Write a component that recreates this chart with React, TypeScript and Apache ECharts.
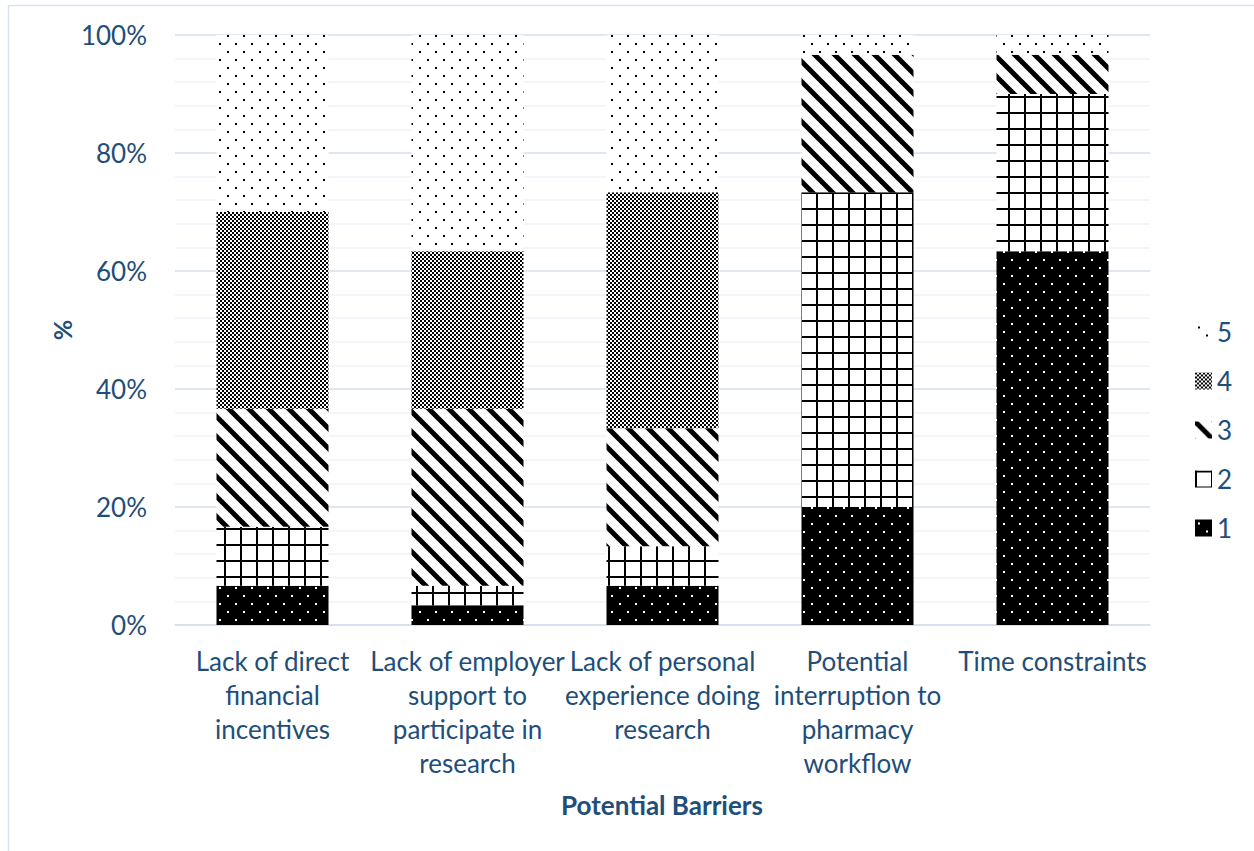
import React, { useEffect, useRef } from "react";
import * as echarts from "echarts";

const categories = [
  "Lack of direct\nfinancial\nincentives",
  "Lack of employer\nsupport to\nparticipate in\nresearch",
  "Lack of personal\nexperience doing\nresearch",
  "Potential\ninterruption to\npharmacy\nworkflow",
  "Time constraints",
];
const seriesNames = ["1", "2", "3", "4", "5"];
const s1 = [6.67, 3.33, 6.67, 20, 63.33];
const s2 = [10, 3.33, 6.67, 53.33, 26.67];
const s3 = [20, 30, 20, 23.33, 6.67];
const s4 = [33.33, 26.67, 40, 0, 0];
const s5 = [30, 36.67, 26.67, 3.33, 3.33];
const seriesValues = [s1, s2, s3, s4, s5];
const legendOrder = ["5", "4", "3", "2", "1"];

const TEXT = "#1F4E79";
const FONT = "Lato";

function tile(w: number, h: number, draw: (ctx: CanvasRenderingContext2D) => void) {
  const c = document.createElement("canvas");
  c.width = w;
  c.height = h;
  const ctx = c.getContext("2d") as CanvasRenderingContext2D;
  draw(ctx);
  return { image: c.toDataURL(), repeat: "repeat", imageWidth: w, imageHeight: h } as any;
}

function makePatterns() {
  const p1 = tile(16, 16, (ctx) => {
    ctx.fillStyle = "#000";
    ctx.fillRect(0, 0, 16, 16);
    ctx.fillStyle = "#fff";
    ctx.fillRect(3, 3, 2, 2);
    ctx.fillRect(11, 11, 2, 2);
  });
  const p2 = tile(16, 16, (ctx) => {
    ctx.fillStyle = "#fff";
    ctx.fillRect(0, 0, 16, 16);
    ctx.fillStyle = "#000";
    ctx.fillRect(0, 0, 2, 16);
    ctx.fillRect(0, 0, 16, 2);
  });
  const p3 = tile(20, 20, (ctx) => {
    ctx.fillStyle = "#fff";
    ctx.fillRect(0, 0, 20, 20);
    ctx.strokeStyle = "#000";
    ctx.lineWidth = 5;
    for (const x0 of [-20, 0, 20]) {
      ctx.beginPath();
      ctx.moveTo(x0 - 2, -2);
      ctx.lineTo(x0 + 22, 22);
      ctx.stroke();
    }
  });
  const p4 = tile(4, 4, (ctx) => {
    ctx.fillStyle = "#fff";
    ctx.fillRect(0, 0, 4, 4);
    ctx.fillStyle = "#000";
    ctx.fillRect(0, 0, 2, 2);
    ctx.fillRect(2, 2, 2, 2);
  });
  const p5 = tile(16, 16, (ctx) => {
    ctx.fillStyle = "#fff";
    ctx.fillRect(0, 0, 16, 16);
    ctx.fillStyle = "#000";
    ctx.fillRect(3, 3, 2, 2);
    ctx.fillRect(11, 11, 2, 2);
  });
  return [p1, p2, p3, p4, p5];
}

export default function App() {
  const ref = useRef<HTMLDivElement>(null);
  useEffect(() => {
    if (!ref.current) return;
    const chart = echarts.init(ref.current, undefined, { renderer: "svg" });
    const patterns = makePatterns();
    chart.setOption({
      animation: false,
      backgroundColor: "#ffffff",
      grid: { left: 175, right: 104, top: 35, bottom: 226 },
      legend: {
        orient: "vertical",
        left: 1190,
        top: 314,
        icon: "rect",
        itemWidth: 17,
        itemHeight: 17,
        itemGap: 23,
        data: legendOrder,
        textStyle: { color: TEXT, fontSize: 26, fontFamily: FONT },
      },
      xAxis: {
        type: "category",
        data: categories,
        axisLine: { show: true, lineStyle: { color: "#D6DFEE", width: 1.5 } },
        axisTick: { show: false },
        axisLabel: {
          interval: 0,
          color: TEXT,
          fontSize: 26,
          fontFamily: FONT,
          lineHeight: 34,
          margin: 19,
        },
      },
      yAxis: {
        type: "value",
        min: 0,
        max: 100,
        interval: 20,
        axisLine: { show: false },
        axisTick: { show: false },
        axisLabel: {
          formatter: "{value}%",
          color: TEXT,
          fontSize: 26,
          fontFamily: FONT,
          margin: 28,
        },
        splitLine: { show: true, lineStyle: { color: "#D6DFEE", width: 1.5 } },
        minorTick: { show: false, splitNumber: 5 },
        minorSplitLine: { show: true, lineStyle: { color: "#EEF2F8", width: 1.5 } },
      },
      graphic: [
        {
          type: "rect",
          silent: true,
          z: -10,
          shape: { x: 8.5, y: 5.5, width: 1300, height: 900 },
          style: { fill: "none", stroke: "#D9E2F1", lineWidth: 1.5 },
        },
        {
          type: "text",
          x: 62,
          y: 330,
          rotation: Math.PI / 2,
          style: {
            text: "%",
            fill: TEXT,
            font: `bold 25px ${FONT}`,
            textAlign: "center",
            textVerticalAlign: "middle",
          },
        },
        {
          type: "text",
          x: 662,
          y: 805,
          style: {
            text: "Potential Barriers",
            fill: TEXT,
            font: `bold 26px ${FONT}`,
            textAlign: "center",
            textVerticalAlign: "middle",
          },
        },
      ],
      series: seriesNames.map((name, i) => ({
        name,
        type: "bar",
        stack: "total",
        barWidth: 112,
        data: seriesValues[i],
        itemStyle: { color: patterns[i] },
        emphasis: { disabled: true },
      })),
    });
    return () => chart.dispose();
  }, []);
  return (
    <div
      ref={ref}
      style={{ position: "fixed", left: 0, top: 0, width: 1254, height: 851 }}
    />
  );
}
